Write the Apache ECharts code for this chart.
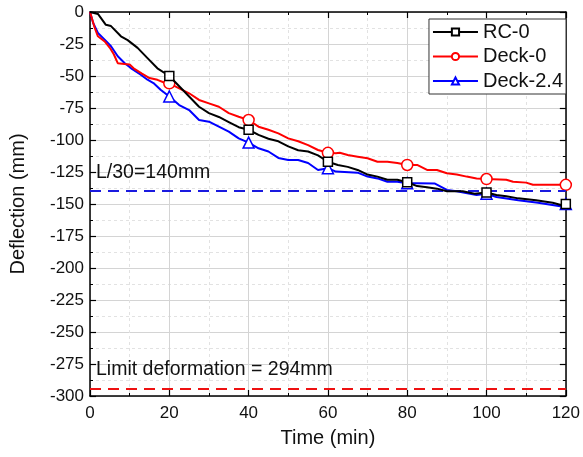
<!DOCTYPE html>
<html>
<head>
<meta charset="utf-8">
<script src="https://cdn.jsdelivr.net/npm/echarts@6/dist/echarts.min.js"></script>
<style>html,body{margin:0;padding:0;background:#fff}#c{width:583px;height:457px}</style>
</head>
<body>
<div id="c"></div>
<script>
const seriesNames = ['RC-0', 'Deck-0', 'Deck-2.4'];
const rc0 = [[0,0],[2,-1.5],[4,-10],[5.3,-11],[7.8,-19],[9.5,-22],[12,-28],[14.5,-36],[17,-44],[20,-50],[22.5,-58],[25,-66],[27.5,-74],[30,-79],[32.5,-82],[35,-86],[37.5,-90],[40,-92],[42.5,-96],[45,-99],[47.5,-101],[50,-105],[52.5,-108],[55,-109],[57.5,-112],[60,-117],[62.5,-119.5],[65,-121],[67.5,-123.4],[70,-127],[72.5,-128.6],[75,-131],[77.5,-131],[80,-133],[82.5,-136],[85,-137],[87.5,-138],[90,-140],[94,-140],[97,-142],[100,-141],[102.5,-143],[105,-144],[108,-145.6],[112.5,-147],[116.7,-149],[119,-151],[120,-150]];
const deck0 = [[0,0],[1.2,-12.5],[2,-19],[3.7,-23],[5,-28],[6,-33],[7,-40],[8.7,-40.6],[10,-41],[11,-44],[13,-48],[15,-51.6],[17,-53],[19,-55.5],[20,-55.7],[22.5,-59.6],[25,-63.5],[27.5,-68.7],[30,-71.4],[32.5,-74],[35,-79],[37.5,-81.8],[40,-84.4],[42.5,-89.6],[45,-92],[47.5,-94.8],[50,-98.7],[52.5,-101],[55,-104],[57.5,-107.8],[60,-110],[62,-110.4],[63,-110],[65,-111.7],[67.5,-113],[70,-114.3],[72.5,-117],[75,-117],[77.5,-118],[80,-119.5],[82.5,-119.5],[83,-120.8],[85,-123.4],[87.5,-123.4],[90,-126],[92.5,-127],[95,-128.6],[97.5,-130],[100,-130.5],[105,-131],[106.7,-132.6],[110,-133.3],[111.7,-135],[120,-135]];
const deck24 = [[0,0],[0.8,-8.6],[2,-16.4],[3.7,-21.6],[5.3,-26.8],[7,-34.6],[8.7,-39.8],[10.3,-43.8],[12.8,-49],[14.5,-52.9],[16,-55.5],[17.8,-60.7],[20,-66],[22.5,-72.7],[25,-76.6],[27.5,-84.4],[30,-85.7],[32.5,-89.6],[35,-93.5],[37.5,-98.7],[40,-102],[42.5,-106.5],[45,-109],[47.5,-114],[50,-115.6],[52.5,-115.6],[55,-118],[57.5,-123.4],[60,-122],[62,-124.7],[62.5,-125.5],[67.5,-125.5],[70,-128.6],[72.5,-130],[75,-132.6],[77.5,-132.6],[80,-133.8],[82.5,-133.8],[87,-134],[90,-139],[92.5,-140],[97.5,-143],[100,-142],[102.5,-144.5],[108,-147],[113,-149],[119,-152],[120,-150]];
const markerTimes = [20, 40, 60, 80, 100, 120];
const xTicks = [0, 20, 40, 60, 80, 100, 120];
const yTicks = [0, -25, -50, -75, -100, -125, -150, -175, -200, -225, -250, -275, -300];
const refLines = [
  {name: 'L/30=140mm', value: -140},
  {name: 'Limit deformation = 294mm', value: -294}
];

const colors = ['#000000', '#ff0000', '#0000ff'];
const symbols = ['rect', 'circle', 'triangle'];
const symSizes = [9, 11, 11];
const font = 'Liberation Sans, Arial, sans-serif';

function build(arr) {
  return arr.map(p => markerTimes.includes(p[0]) ? {value: p} : {value: p, symbol: 'none'});
}

const chart = echarts.init(document.getElementById('c'), null, {renderer: 'canvas'});
const axisCommon = {
  axisLine: {show: true, onZero: false, lineStyle: {color: '#000', width: 1.5}},
  axisTick: {show: true, inside: true, length: 6, lineStyle: {color: '#000', width: 1.2}},
  minorTick: {show: true, splitNumber: 2, length: 3, lineStyle: {color: '#000', width: 1}},
};
const option = {
  animation: false,
  backgroundColor: '#fff',
  grid: {left: 90, right: 13, top: 12, bottom: 61, containLabel: false},
  legend: {
    orient: 'vertical', right: 17, top: 19,
    backgroundColor: '#fff', borderColor: '#333', borderWidth: 1,
    padding: [3, 3, 3, 3],
    itemWidth: 45, itemHeight: 9, itemGap: 4.5,
    textStyle: {fontFamily: font, fontSize: 20, color: '#111', lineHeight: 20},
    data: seriesNames
  },
  xAxis: [
    Object.assign({}, axisCommon, {
      type: 'value', min: 0, max: 120, interval: 20, position: 'bottom',
      name: 'Time (min)', nameLocation: 'middle', nameGap: 32,
      nameTextStyle: {fontFamily: font, fontSize: 20, color: '#111'},
      axisLabel: {fontFamily: font, fontSize: 17, color: '#111', margin: 9,
        formatter: v => xTicks.includes(v) ? String(v) : ''},
      splitLine: {show: true, lineStyle: {color: '#d4d4d4', width: 1}},
      minorSplitLine: {show: true, lineStyle: {color: '#e2e2e2', width: 1, type: [3, 3]}}
    }),
    Object.assign({}, axisCommon, {
      type: 'value', min: 0, max: 120, interval: 20, position: 'top',
      axisLabel: {show: false}, splitLine: {show: false}
    })
  ],
  yAxis: [
    Object.assign({}, axisCommon, {
      type: 'value', min: -300, max: 0, interval: 25, position: 'left',
      name: 'Deflection (mm)', nameLocation: 'middle', nameGap: 62, nameRotate: 90,
      nameTextStyle: {fontFamily: font, fontSize: 20, color: '#111'},
      axisLabel: {fontFamily: font, fontSize: 17, color: '#111', margin: 6,
        formatter: v => yTicks.includes(v) ? String(v) : ''},
      splitLine: {show: true, lineStyle: {color: '#d4d4d4', width: 1}},
      minorSplitLine: {show: true, lineStyle: {color: '#e2e2e2', width: 1, type: [3, 3]}}
    }),
    Object.assign({}, axisCommon, {
      type: 'value', min: -300, max: 0, interval: 25, position: 'right',
      axisLabel: {show: false}, splitLine: {show: false}
    })
  ],
  series: [rc0, deck0, deck24].map((arr, i) => ({
    name: seriesNames[i], type: 'line', data: build(arr),
    symbol: symbols[i], symbolSize: symSizes[i], showAllSymbol: true,
    itemStyle: {color: '#fff', borderColor: colors[i], borderWidth: 1.5},
    lineStyle: {color: colors[i], width: 2},
    z: 3 - i + 2,
    markLine: i === 0 ? {
      silent: true, symbol: ['none', 'none'],
      data: refLines.map((r, k) => ({
        yAxis: r.value,
        lineStyle: {color: k === 0 ? '#1a1adf' : '#ee1111', width: 2, type: [11, 7]},
        label: {show: true, position: 'insideStartTop', formatter: r.name, distance: [6, 9],
          fontFamily: font, fontSize: 19.5, color: '#111'}
      }))
    } : undefined
  }))
};
chart.setOption(option);
</script>
</body>
</html>
